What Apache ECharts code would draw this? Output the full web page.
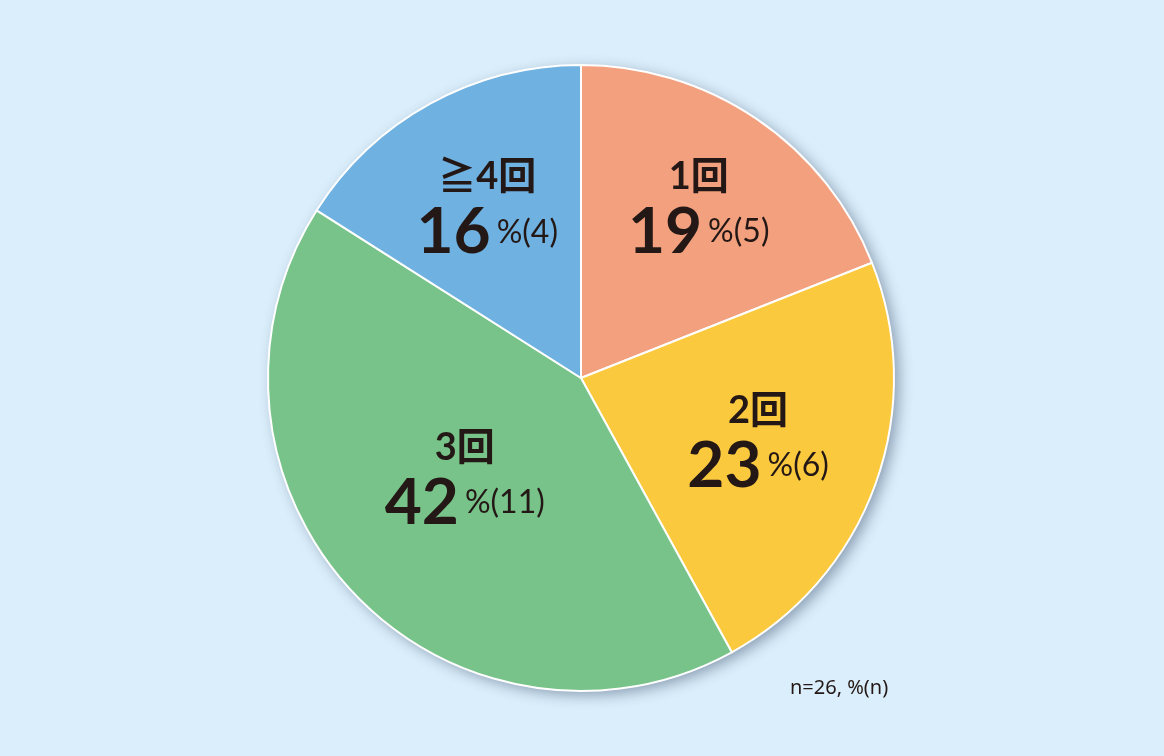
<!DOCTYPE html>
<html>
<head>
<meta charset="utf-8">
<script src="https://cdn.jsdelivr.net/npm/echarts@6/dist/echarts.min.js"></script>
<style>
  html, body { margin: 0; padding: 0; background: #dbeefb; }
  #main { width: 1164px; height: 756px; }
</style>
</head>
<body>
<div id="main"></div>
<script>
var categories = ['1回', '2回', '3回', '≧4回'];
var counts = [5, 6, 11, 4];
var percents = [19, 23, 42, 16];
var colors = ['#f3a07e', '#fbc93e', '#78c38a', '#6fb1e1'];
// nudges so each label sits where the original put it
var labelOffsets = [[28, -38], [27, 10], [0, -8], [-17, -30]];

var chart = echarts.init(document.getElementById('main'));

// slices are sized by the rounded percentages, as in the original
var pieData = categories.map(function (name, i) {
	return {
		name: name,
		value: percents[i],
		n: counts[i],
		itemStyle: { color: colors[i] },
		label: { offset: labelOffsets[i] }
	};
});

var font = "Lato, 'Noto Sans CJK JP', sans-serif";

var option = {
	backgroundColor: '#dbeefb',
	animation: false,
	title: {
		text: 'n=26, %(n)',
		left: 785,
		top: 673,
		textStyle: {
			fontFamily: "'Noto Sans', 'Noto Sans CJK JP', sans-serif",
			fontSize: 20,
			fontWeight: 'normal',
			color: '#231815'
		}
	},
	series: [
		{
			// shadow disc under the pie
			type: 'pie',
			silent: true,
			center: [581, 378],
			radius: [0, 313],
			label: { show: false },
			itemStyle: {
				color: '#dbeefb',
				shadowColor: 'rgba(40, 60, 90, 0.45)',
				shadowBlur: 14,
				shadowOffsetX: 5,
				shadowOffsetY: 4
			},
			data: [{ value: 1 }]
		},
		{
			type: 'pie',
			center: [581, 378],
			radius: [0, 313],
			startAngle: 90,
			clockwise: true,
			itemStyle: {
				borderColor: '#ffffff',
				borderWidth: 2
			},
			label: {
				show: true,
				position: 'inside',
				fontFamily: font,
				color: '#231815',
				formatter: function (p) {
					return '{a|' + p.name + '}\n{b|' + p.value + '}{c|%(' + p.data.n + ')}';
				},
				rich: {
					a: { fontFamily: font, fontSize: 38, fontWeight: 'bold', color: '#231815', lineHeight: 48 },
					b: { fontFamily: font, fontSize: 64, fontWeight: 'bold', color: '#231815', lineHeight: 62 },
					c: { fontFamily: font, fontSize: 32, color: '#231815', lineHeight: 62, padding: [0, 0, 0, 6] }
				}
			},
			labelLine: { show: false },
			data: pieData
		}
	]
};

chart.setOption(option);
</script>
</body>
</html>
